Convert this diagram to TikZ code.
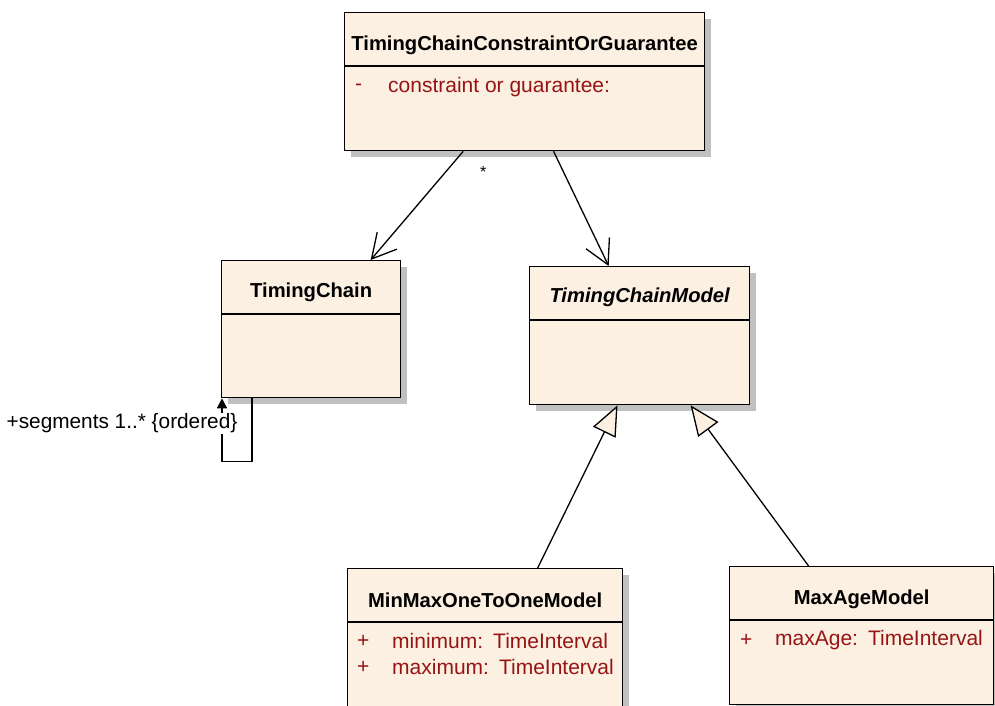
\documentclass[tikz,border=0pt]{standalone}
\usepackage{fontspec}
\setmainfont{Liberation Sans}
\usetikzlibrary{arrows.meta,positioning,calc,shadows}
\definecolor{umlfill}{RGB}{251,240,226}
\definecolor{umlattr}{RGB}{150,20,20}
\definecolor{umlshadow}{RGB}{192,192,192}

\begin{document}
\begin{tikzpicture}[x=1pt,y=-1pt,
  umlbox/.style={draw,line width=1.3pt,fill=umlfill,inner sep=0pt,anchor=north west,
    drop shadow={shadow xshift=6pt,shadow yshift=-6pt,fill=umlshadow,opacity=1}},
  umltitle/.style={font=\fontsize{20.2}{24}\selectfont\bfseries},
  umlattr/.style={font=\fontsize{21}{25}\selectfont,text=umlattr,anchor=west,inner sep=0pt},
  assoc/.style={line width=1.3pt,-{Straight Barb[length=24pt,width=26pt,line width=1.3pt]}},
  gen/.style={line width=1.3pt,-{Triangle[length=30pt,width=25pt,fill=umlfill,line width=1.3pt]}}]
  \useasboundingbox (0,0) rectangle (995,706);
  % class boxes: name/x/y/width/height
  \foreach \n/\x/\y/\w/\h in {tcg/344/12/360/138, tc/221/260/179/137, tcm/529/266/220/138,
    mm/347/568/275/138, ma/729/566/264/138} {
    \node[umlbox,minimum width=\w pt,minimum height=\h pt] (\n) at (\x,\y) {};
    \draw[line width=1.3pt] ($(\n.north west)+(0,54)$) -- ($(\n.north east)+(0,54)$);
  }
  % titles
  \node[umltitle] (tcg-t) at ($(tcg.north)+(0,33)$) {TimingChainConstraintOrGuarantee};
  \node[umltitle] (tc-t) at ($(tc.north)+(0,32)$) {TimingChain};
  \node[umltitle,font=\fontsize{20.2}{24}\selectfont\bfseries\itshape] (tcm-t) at ($(tcm.north)+(0,31)$) {TimingChainModel};
  \node[umltitle] (mm-t) at ($(mm.north)+(0,32)$) {MinMaxOneToOneModel};
  \node[umltitle] (ma-t) at ($(ma.north)+(0,33)$) {MaxAgeModel};
  % attributes
  \node[umlattr] (tcg-v) at ($(tcg.north west)+(11,75)$) {-};
  \node[umlattr] (tcg-a) at ($(tcg.north west)+(44,75)$) {constraint or guarantee:};
  \node[umlattr] (mm-v1) at ($(mm.north west)+(10,73)$) {+};
  \node[umlattr] (mm-a1) at ($(mm.north west)+(45,73)$) {minimum:\hspace{10pt}TimeInterval};
  \node[umlattr] (mm-v2) at ($(mm.north west)+(10,99)$) {+};
  \node[umlattr] (mm-a2) at ($(mm.north west)+(45,99)$) {maximum:\hspace{10pt}TimeInterval};
  \node[umlattr] (ma-v) at ($(ma.north west)+(11,74)$) {+};
  \node[umlattr] (ma-a) at ($(ma.north west)+(46,74)$) {maxAge:\hspace{10pt}TimeInterval};
  % associations
  \draw[assoc] ($(tcg.south west)!0.33!(tcg.south east)$) -- ($(tc.north west)!0.83!(tc.north east)$)
    node[at start,xshift=20pt,yshift=-21pt,font=\fontsize{16}{18}\selectfont] {*};
  \draw[assoc] ($(tcg.south west)!0.58!(tcg.south east)$) -- ($(tcm.north west)!0.36!(tcm.north east)$);
  \draw[line width=1.3pt,-{Triangle[length=10pt,width=10pt]}] ($(tc.south west)+(31,0)$) -- ++(0,63)
    -| ($(tc.south west)+(1,0)$)
    node[pos=0.8,fill=white,inner sep=1pt,anchor=east,xshift=17pt,font=\fontsize{20.8}{24}\selectfont] {+segments 1..* \{ordered\}};
  % generalizations
  \draw[gen] ($(mm.north west)!0.69!(mm.north east)$) -- ($(tcm.south west)!0.40!(tcm.south east)$);
  \draw[gen] ($(ma.north west)!0.30!(ma.north east)$) -- ($(tcm.south west)!0.73!(tcm.south east)$);
\end{tikzpicture}
\end{document}
